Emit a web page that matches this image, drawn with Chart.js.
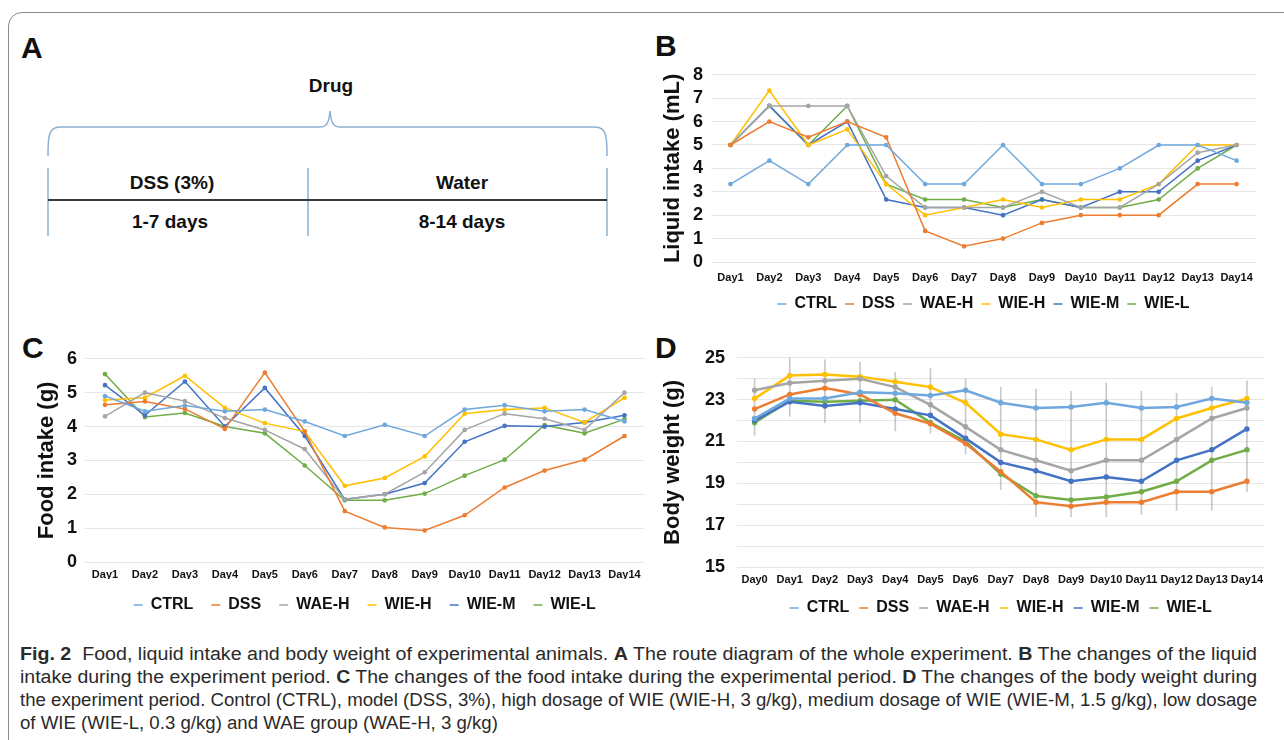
<!DOCTYPE html>
<html lang="en">
<head>
<meta charset="utf-8" />
<title>Fig. 2 - Food, liquid intake and body weight</title>
<script src="https://cdn.jsdelivr.net/npm/chart.js"></script>
<style>
  body {
    margin: 0;
    width: 1284px;
    height: 740px;
    background: #fff;
    overflow: hidden;
    position: relative;
    font-family: "Liberation Sans", Arial, sans-serif;
    color: #111;
  }
  .frame {
    position: absolute; left: 8px; top: 12px; width: 1310px; height: 780px;
    border: 1.5px solid #8c8c8c; border-radius: 14px;
  }
  .tag { position: absolute; font-weight: bold; font-size: 30px; line-height: 30px; }
  .lbl { position: absolute; font-weight: bold; font-size: 19px; transform: translate(-50%, -50%); white-space: nowrap; }
  .box { position: absolute; }
  .cap {
    position: absolute; left: 20px;
    transform-origin: 0 0;
    font-family: "Liberation Sans", Arial, sans-serif;
    font-size: 18px; line-height: 23px; white-space: nowrap; color: #2a2a2a;
  }
</style>
</head>
<body>
<div class="frame"></div>

<!-- panel A: route diagram -->
<div class="tag" style="left:21px; top:33px;">A</div>
<div class="tag" style="left:655px; top:31px;">B</div>
<div class="tag" style="left:22px; top:333px;">C</div>
<div class="tag" style="left:655px; top:333px;">D</div>

<svg class="box" style="left:0; top:0;" width="640" height="330">
  <path d="M48 156 C48 138 48 127 60 127 L320 127 C326 127 329 124 330 111 C331 124 334 127 340 127 L595 127 C607 127 607 138 607 156"
        fill="none" stroke="#8db0d2" stroke-width="1.5" />
  <line x1="48" y1="168" x2="48" y2="236" stroke="#8db0d2" stroke-width="1.5" />
  <line x1="607" y1="168" x2="607" y2="236" stroke="#8db0d2" stroke-width="1.5" />
  <line x1="308" y1="168" x2="308" y2="236" stroke="#8db0d2" stroke-width="1.5" />
  <line x1="48" y1="200" x2="607" y2="200" stroke="#3a3a3a" stroke-width="2" />
</svg>
<div class="lbl" style="left:331px; top:86px;">Drug</div>
<div class="lbl" style="left:172px; top:183px;">DSS (3%)</div>
<div class="lbl" style="left:462px; top:183px;">Water</div>
<div class="lbl" style="left:170px; top:222px;">1-7 days</div>
<div class="lbl" style="left:462px; top:222px;">8-14 days</div>

<div class="box" style="left:656px; top:56px;"><canvas id="chartB" width="606" height="266"></canvas></div>
<div class="box" style="left:30px; top:340px;"><canvas id="chartC" width="620" height="283"></canvas></div>
<div class="box" style="left:656px; top:335px;"><canvas id="chartD" width="614" height="291"></canvas></div>

<div class="cap" data-w="1237" style="top:643px;"><b>Fig. 2</b>&nbsp; Food, liquid intake and body weight of experimental animals. <b>A</b> The route diagram of the whole experiment. <b>B</b> The changes of the liquid</div>
<div class="cap" data-w="1237" style="top:666px;">intake during the experiment period. <b>C</b> The changes of the food intake during the experimental period. <b>D</b> The changes of the body weight during</div>
<div class="cap" data-w="1237" style="top:689px;">the experiment period. Control (CTRL), model (DSS, 3%), high dosage of WIE (WIE-H, 3 g/kg), medium dosage of WIE (WIE-M, 1.5 g/kg), low dosage</div>
<div class="cap" style="top:712px;">of WIE (WIE-L, 0.3 g/kg) and WAE group (WAE-H, 3 g/kg)</div>

<script>
  // ---- data ----
  const days14 = ["Day1", "Day2", "Day3", "Day4", "Day5", "Day6", "Day7", "Day8", "Day9", "Day10", "Day11", "Day12", "Day13", "Day14"];
  const days15 = ["Day0"].concat(days14);
  const groups = ["CTRL", "DSS", "WAE-H", "WIE-H", "WIE-M", "WIE-L"];
  const colors = ["#6fa8dc", "#ed7d31", "#a5a5a5", "#ffc000", "#4472c4", "#70ad47"];

  // B: liquid intake (mL)
  const ctrlB = [3.33, 4.33, 3.33, 5, 5, 3.33, 3.33, 5, 3.33, 3.33, 4, 5, 5, 4.33];
  const dssB = [5, 6, 5.33, 6, 5.33, 1.33, 0.67, 1, 1.67, 2, 2, 2, 3.33, 3.33];
  const waeB = [5, 6.67, 6.67, 6.67, 3.67, 2.33, 2.33, 2.33, 3, 2.33, 2.33, 3.33, 4.67, 5];
  const wiehB = [5, 7.33, 5, 5.67, 3.33, 2, 2.33, 2.67, 2.33, 2.67, 2.67, 3.33, 5, 5];
  const wiemB = [5, 6.67, 5, 6, 2.67, 2.33, 2.33, 2, 2.67, 2.33, 3, 3, 4.33, 5];
  const wielB = [5, 6.67, 5, 6.67, 3.33, 2.67, 2.67, 2.33, 2.67, 2.33, 2.33, 2.67, 4, 5];

  // C: food intake (g)
  const ctrlC = [4.9, 4.45, 4.62, 4.45, 4.5, 4.15, 3.72, 4.05, 3.72, 4.5, 4.63, 4.45, 4.5, 4.15];
  const dssC = [4.64, 4.74, 4.52, 3.93, 5.59, 3.85, 1.5, 1.02, 0.93, 1.38, 2.2, 2.7, 3.02, 3.72];
  const waeC = [4.3, 5.0, 4.75, 4.25, 3.9, 3.33, 1.85, 2.0, 2.65, 3.9, 4.38, 4.23, 3.9, 5.0];
  const wiehC = [4.78, 4.85, 5.5, 4.55, 4.1, 3.85, 2.25, 2.48, 3.12, 4.38, 4.5, 4.55, 4.12, 4.85];
  const wiemC = [5.22, 4.33, 5.33, 4.0, 5.14, 3.72, 1.85, 2.0, 2.33, 3.55, 4.02, 4.0, 4.12, 4.33];
  const wielC = [5.55, 4.28, 4.4, 4.0, 3.8, 2.85, 1.82, 1.82, 2.02, 2.55, 3.02, 4.04, 3.8, 4.22];

  // D: body weight (g)
  const ctrlD = [22.1, 23.05, 23.05, 23.35, 23.3, 23.2, 23.45, 22.85, 22.6, 22.65, 22.85, 22.6, 22.65, 23.05, 22.85];
  const dssD = [22.55, 23.25, 23.55, 23.25, 22.35, 21.85, 20.9, 19.55, 18.1, 17.9, 18.1, 18.1, 18.6, 18.6, 19.1];
  const waeD = [23.45, 23.8, 23.9, 24.0, 23.6, 22.75, 21.7, 20.6, 20.1, 19.6, 20.1, 20.1, 21.1, 22.1, 22.6];
  const wiehD = [23.05, 24.15, 24.2, 24.1, 23.85, 23.6, 22.85, 21.35, 21.1, 20.6, 21.1, 21.1, 22.1, 22.6, 23.05];
  const wiemD = [22.0, 22.9, 22.7, 22.85, 22.55, 22.25, 21.15, 20.0, 19.6, 19.1, 19.3, 19.1, 20.1, 20.6, 21.6];
  const wielD = [21.9, 22.95, 22.9, 22.95, 23.0, 21.9, 21.0, 19.45, 18.4, 18.2, 18.35, 18.6, 19.1, 20.1, 20.6];
  // spread of the error bars (all groups together)
  const errLowD = [21.3, 22.2, 21.9, 21.9, 21.5, 21.4, 20.4, 18.7, 17.4, 17.4, 17.4, 17.5, 17.7, 17.7, 18.6];
  const errHighD = [24.0, 25.0, 24.9, 24.8, 24.3, 24.5, 24.0, 23.6, 23.5, 23.4, 23.8, 23.4, 23.3, 23.6, 23.9];

  const FONT = "'Liberation Sans', Arial, sans-serif";

  // caption: full lines fill the text width, the last line keeps the first line's squeeze
  const caps = document.querySelectorAll(".cap");
  let lastScale = 1;
  caps.forEach((el) => {
    if (el.dataset.w) {
      lastScale = +el.dataset.w / el.getBoundingClientRect().width;
    }
    el.style.transform = `scaleX(${lastScale.toFixed(4)})`;
  });

  function lines(series, width, radius) {
    return series.map((d, i) => ({
      type: "line",
      label: groups[i],
      data: d,
      borderColor: colors[i],
      backgroundColor: colors[i],
      borderWidth: width,
      pointRadius: radius,
      pointBorderWidth: 1.5,
      tension: 0,
      order: 1,
    }));
  }

  function opts(cfg) {
    return {
      responsive: false,
      animation: false,
      layout: { padding: { top: cfg.padTop, right: cfg.padRight, left: 0, bottom: 0 } },
      plugins: {
        tooltip: { enabled: false },
        legend: {
          position: "bottom",
          fullSize: false,
          labels: {
            filter: (item) => groups.includes(item.text),
            usePointStyle: true,
            pointStyle: "line",
            pointStyleWidth: 9,
            color: "#111",
            padding: cfg.legendGap,
            font: { family: FONT, size: 16, weight: "bold" },
          },
        },
      },
      scales: {
        x: {
          offset: true,
          grid: { display: false, drawTicks: false },
          border: { display: false },
          ticks: {
            autoSkip: false, maxRotation: 0, padding: cfg.xPad, color: "#111",
            font: { family: FONT, size: 11, weight: "bold" },
          },
          afterFit: (s) => { s.height = cfg.xHeight; },
        },
        y: {
          min: cfg.min, max: cfg.max,
          grid: { color: "#e6e6e6", drawTicks: false, lineWidth: 1 },
          border: { display: false },
          ticks: {
            stepSize: 1, autoSkip: false, padding: cfg.tickPad, color: "#111",
            font: { family: FONT, size: 18, weight: "bold" },
            callback: cfg.tickCb || ((v) => v),
          },
          title: {
            display: true, text: cfg.title, color: "#111",
            padding: { top: 4, bottom: 4 },
            font: { family: FONT, size: 22, weight: "bold" },
          },
          afterFit: (s) => { s.width = cfg.yWidth; },
        },
      },
    };
  }

  new Chart(document.getElementById("chartB"), {
    type: "line",
    data: { labels: days14, datasets: lines([ctrlB, dssB, waeB, wiehB, wiemB, wielB], 1.5, 1.6) },
    options: opts({ min: 0, max: 8, title: "Liquid intake (mL)", padTop: 15, padRight: 5, yWidth: 55, xHeight: 26, xPad: 9, tickPad: 8, legendGap: 8 }),
  });

  new Chart(document.getElementById("chartC"), {
    type: "line",
    data: { labels: days14, datasets: lines([ctrlC, dssC, waeC, wiehC, wiemC, wielC], 1.5, 1.6) },
    options: opts({ min: 0, max: 6, title: "Food intake (g)", padTop: 14, padRight: 5, yWidth: 55, xHeight: 17, xPad: 6, tickPad: 8, legendGap: 18 }),
  });

  const errBars = {
    type: "bar",
    label: "err",
    data: errLowD.map((lo, i) => [lo, errHighD[i]]),
    backgroundColor: "rgba(120,120,120,0.4)",
    barThickness: 1,
    order: 5,
  };

  new Chart(document.getElementById("chartD"), {
    type: "line",
    data: { labels: days15, datasets: lines([ctrlD, dssD, waeD, wiehD, wiemD, wielD], 2.5, 2).concat([errBars]) },
    options: opts({
      min: 15, max: 25, title: "Body weight (g)", padTop: 14, padRight: 5, yWidth: 81, xHeight: 23, xPad: 6, tickPad: 12, legendGap: 10,
      tickCb: (v) => (v % 2 === 1 ? v : ""),
    }),
  });
</script>
</body>
</html>
